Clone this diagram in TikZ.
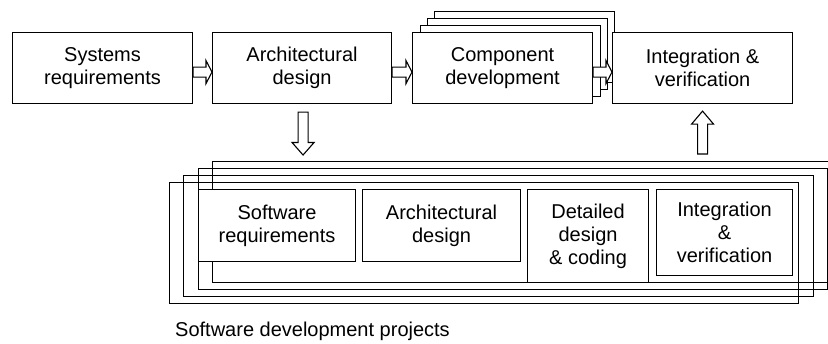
\documentclass[tikz,border=0pt]{standalone}
\usepackage{fontspec}
\setmainfont{Liberation Sans}
\usetikzlibrary{calc}
\begin{document}
\begin{tikzpicture}[x=1bp,y=-1bp,
  box/.style={draw, line width=1.1bp, fill=white, align=center, inner sep=0pt,
    anchor=north west, font=\fontsize{20bp}{23bp}\selectfont},
  frame/.style={draw, line width=1.1bp, inner sep=0pt, anchor=north west},
  blockarrow/.style={draw, line width=1.1bp, fill=white, line join=miter},
  % horizontal hollow block arrow, pointing right
  harrow/.style={to path={let \p1=(\tikztostart), \p2=(\tikztotarget) in
    (\x1,\y1+5bp) -- (\x2-6bp,\y1+5bp) -- (\x2-6bp,\y1+11.5bp) -- (\x2,\y1)
    -- (\x2-6bp,\y1-11.5bp) -- (\x2-6bp,\y1-5bp) -- (\x1,\y1-5bp) -- cycle}},
  % vertical hollow block arrow; #1 is the signed head length
  varrow/.style={to path={let \p1=(\tikztostart), \p2=(\tikztotarget) in
    (\x1-5bp,\y1) -- (\x1-5bp,\y2+#1) -- (\x1-11bp,\y2+#1) -- (\x1,\y2)
    -- (\x1+11bp,\y2+#1) -- (\x1+5bp,\y2+#1) -- (\x1+5bp,\y1) -- cycle}}
]
\useasboundingbox (0,0) rectangle (828,343);
\clip (0,0) rectangle (828,343);

% system-level process
\node[box, minimum width=180bp, minimum height=71bp] (sysreq) at (12,32) {Systems\\requirements};
\node[box, minimum width=179bp, minimum height=71bp] (archdes) at (212,32) {Architectural\\design};
\node[box, minimum width=180bp, minimum height=71bp] (compdev3) at (434,11) {};
\node[box, minimum width=180bp, minimum height=71bp] (compdev2) at (427,18) {};
\node[box, minimum width=180bp, minimum height=71bp] (compdev1) at (420,25) {};
\node[box, minimum width=180bp, minimum height=71bp] (compdev) at (412,32) {Component\\development};
\node[box, minimum width=180bp, minimum height=71bp] (integ) at (612,32) {Integration \&\\verification};

% stack of software projects
\node[frame, minimum width=629bp, minimum height=121bp] (proj1) at (169,182) {};
\node[frame, minimum width=630bp, minimum height=121bp] (proj2) at (183,175) {};
\node[frame, minimum width=629bp, minimum height=121bp] (proj3) at (198,168) {};
\node[frame, minimum width=630bp, minimum height=121bp] (proj4) at (212,161) {};

\node[box, minimum width=157bp, minimum height=72bp] (swreq) at (198,189) {Software\\requirements};
\node[box, minimum width=158bp, minimum height=72bp] (swarch) at (362,189) {Architectural\\design};
\node[box, minimum width=121bp, minimum height=93bp] (detail) at (527,189) {Detailed\\design\\\& coding};
\node[box, minimum width=136bp, minimum height=86bp] (swinteg) at (656,189) {Integration\\\&\\verification};

\node[anchor=base west, inner sep=0pt, font=\fontsize{20bp}{23bp}\selectfont] (caption) at (175,336)
  {Software development projects};

% flow arrows
\draw[blockarrow, harrow] ([yshift=-4bp]sysreq.east) to ([yshift=-4bp]archdes.west);
\draw[blockarrow, harrow] ([yshift=-4bp]archdes.east) to ([yshift=-4bp]compdev.west);
\draw[blockarrow, harrow] ([yshift=-4bp]compdev.east) to ([yshift=-4bp]integ.west);

\coordinate (downtail) at ($(archdes.south)+(1,8)$);
\coordinate (downtip) at ($(archdes.south |- proj4.north)+(1,-6)$);
\draw[blockarrow, varrow=12.5bp] (downtail) to (downtip);

\coordinate (uptail) at ($(integ.south |- proj4.north)+(0,-7)$);
\coordinate (uptip) at ($(integ.south)+(0,7)$);
\draw[blockarrow, varrow=-13bp] (uptail) to (uptip);
\end{tikzpicture}
\end{document}
